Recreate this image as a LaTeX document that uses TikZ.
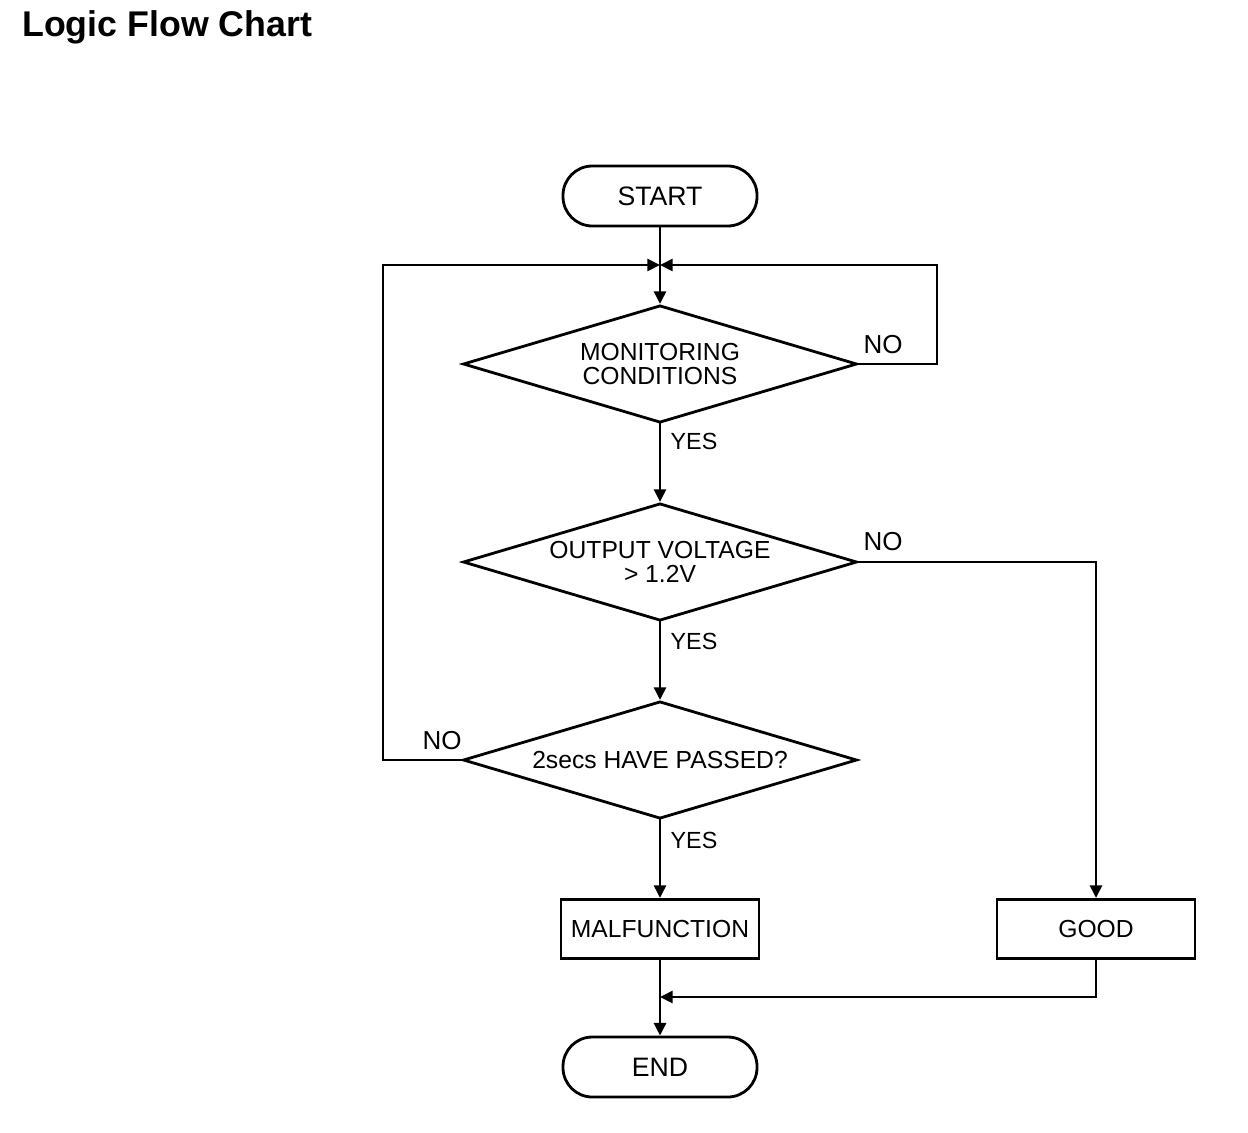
\documentclass[tikz,border=0pt]{standalone}
\usepackage{fontspec}
\setmainfont{Liberation Sans}
\usetikzlibrary{shapes.geometric,arrows.meta}
\begin{document}
\begin{tikzpicture}[x=0.75pt,y=-0.75pt,
  line/.style={line width=2.1pt,line cap=rect},
  arr/.style={line width=2.1pt,line cap=rect, -{Triangle[length=9.5pt,width=9pt]}},
  term/.style={draw,line width=2.1pt,rectangle,rounded corners=22pt,minimum width=145.5pt,minimum height=45pt,inner sep=0pt,text depth=-1.5pt,font=\fontsize{20}{24}\selectfont},
  proc/.style={draw,line width=2.1pt,rectangle,minimum width=148.5pt,minimum height=44.5pt,inner sep=0pt,font=\fontsize{18.5}{22}\selectfont},
  dec/.style={draw,line width=2.1pt,diamond,aspect=3.37,minimum width=295.5pt,minimum height=88pt,inner sep=0pt,align=center,font=\fontsize{18.5}{18.5}\selectfont},
  nolbl/.style={font=\fontsize{19.5}{23}\selectfont,inner sep=0pt},
  yeslbl/.style={font=\fontsize{17.5}{21}\selectfont,inner sep=0pt}]
\useasboundingbox (0,0) rectangle (1248,1132);
\node[anchor=base west,inner sep=0pt,font=\bfseries\fontsize{26.8}{30}\selectfont] (title) at (22,36) {Logic Flow Chart};
\node[term] (start) at (660,196) {START};
\coordinate (m) at (660,265);
\node[dec] (d1) at (660,364) {MONITORING\\CONDITIONS};
\node[dec] (d2) at (660,562) {OUTPUT VOLTAGE\\> 1.2V};
\node[dec] (d3) at (660,760) {2secs HAVE PASSED?};
\node[proc] (mal) at (660,929) {MALFUNCTION};
\node[proc] (good) at (1096,929) {GOOD};
\node[term] (end) at (660,1067) {END};
\coordinate (l1) at (383,265);
\coordinate (l2) at (383,760);
\coordinate (r1) at (937,364);
\coordinate (r2) at (937,265);
\coordinate (g1) at (1096,562);
\coordinate (e1) at (1096,997);
\coordinate (e2) at (660,997);
% connectors
\draw[line] (start.south) -- (m);
\draw[arr] (m) -- (d1.north);
\draw[arr] (d1.east) -- (r1) -- (r2) -- (m);
\draw[arr] (d1.south) -- (d2.north);
\draw[arr] (d2.south) -- (d3.north);
\draw[arr] (d2.east) -- (g1) -- (good.north);
\draw[arr] (d3.west) -- (l2) -- (l1) -- (m);
\draw[arr] (d3.south) -- (mal.north);
\draw[arr] (mal.south) -- (end.north);
\draw[arr] (good.south) -- (e1) -- (e2);
% labels
\node[nolbl] (no1) at (883,345) {NO};
\node[yeslbl] (yes1) at (694,441) {YES};
\node[nolbl] (no2) at (883,542) {NO};
\node[yeslbl] (yes2) at (694,641) {YES};
\node[nolbl] (no3) at (442,741) {NO};
\node[yeslbl] (yes3) at (694,840) {YES};
\end{tikzpicture}
\end{document}
